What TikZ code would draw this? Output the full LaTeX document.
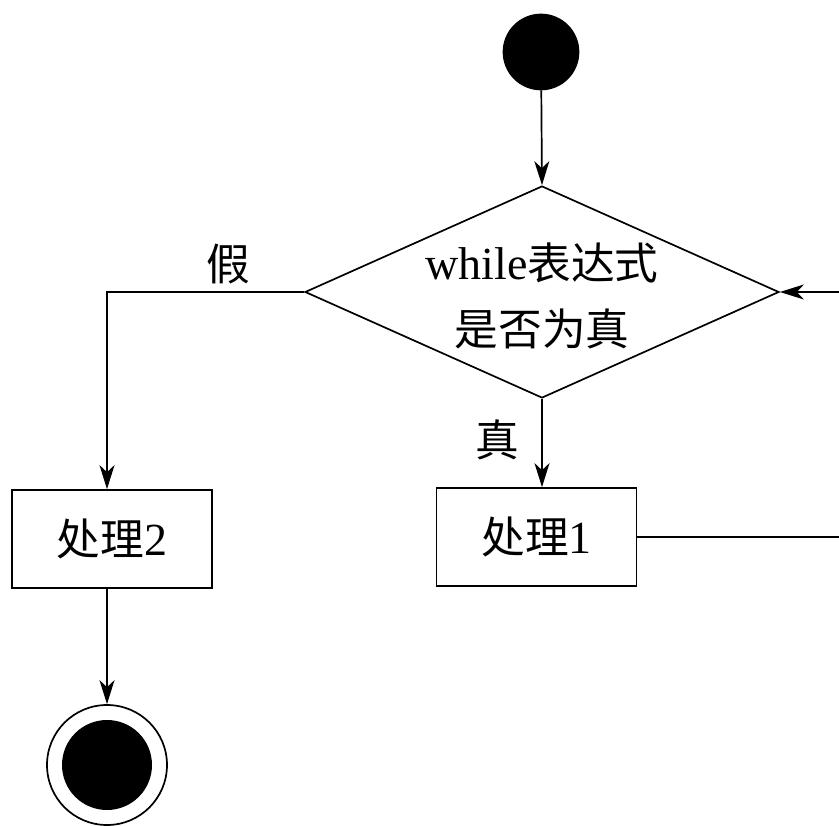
\documentclass[tikz,border=0pt]{standalone}
\usepackage{fontspec}
\setmainfont{Liberation Serif}
\newfontfamily\cjk{Noto Sans CJK SC}[Scale=0.95]
\usetikzlibrary{shapes.geometric,arrows.meta}
\begin{document}
\begin{tikzpicture}[x=1pt,y=-1pt,
  line width=1.7pt,
  arr/.style={-{Stealth[length=24pt,width=15pt,inset=7pt]}},
  txt/.style={font=\fontsize{46}{66}\selectfont},
  boxnode/.style={draw,rectangle,minimum width=200pt,minimum height=98pt,inner sep=0pt,txt}]
\useasboundingbox (0,0) rectangle (839,826);
\node (start) [circle,fill=black,draw,minimum size=75pt,inner sep=0pt] at (541,52) {};
\node (dec) [diamond,draw,minimum width=474pt,minimum height=212pt,inner sep=0pt,
  label={[txt,align=center,yshift=-4pt]center:{while{\cjk 表达式}\\{\cjk 是否为真}}}] at (542,292) {};
\node (p2) [boxnode] at (112,539) {{\cjk 处理}2};
\node (p1) [boxnode] at (536.5,537) {{\cjk 处理}1};
\node (endo) [circle,draw,minimum size=120pt,inner sep=0pt] at (107,765) {};
\node (endi) [circle,fill=black,minimum size=90pt,inner sep=0pt] at (endo.center) {};
\node (lf) [txt] at (228,264) {\cjk 假};
\node (lt) [txt] at (497,440) {\cjk 真};
\coordinate (r1) at (839,537);
\coordinate (r2) at (839,292);
\draw[arr] (start) -- (dec.north);
\draw[arr] (dec.west) -| (endo.north |- p2.north);
\draw[arr] (dec.south) -- (dec.south |- p1.north);
\draw[arr] (endo.north |- p2.south) -- (endo.north);
\draw (p1.east) -- (r1);
\draw[arr] (r2) -- (dec.east);
\end{tikzpicture}
\end{document}
